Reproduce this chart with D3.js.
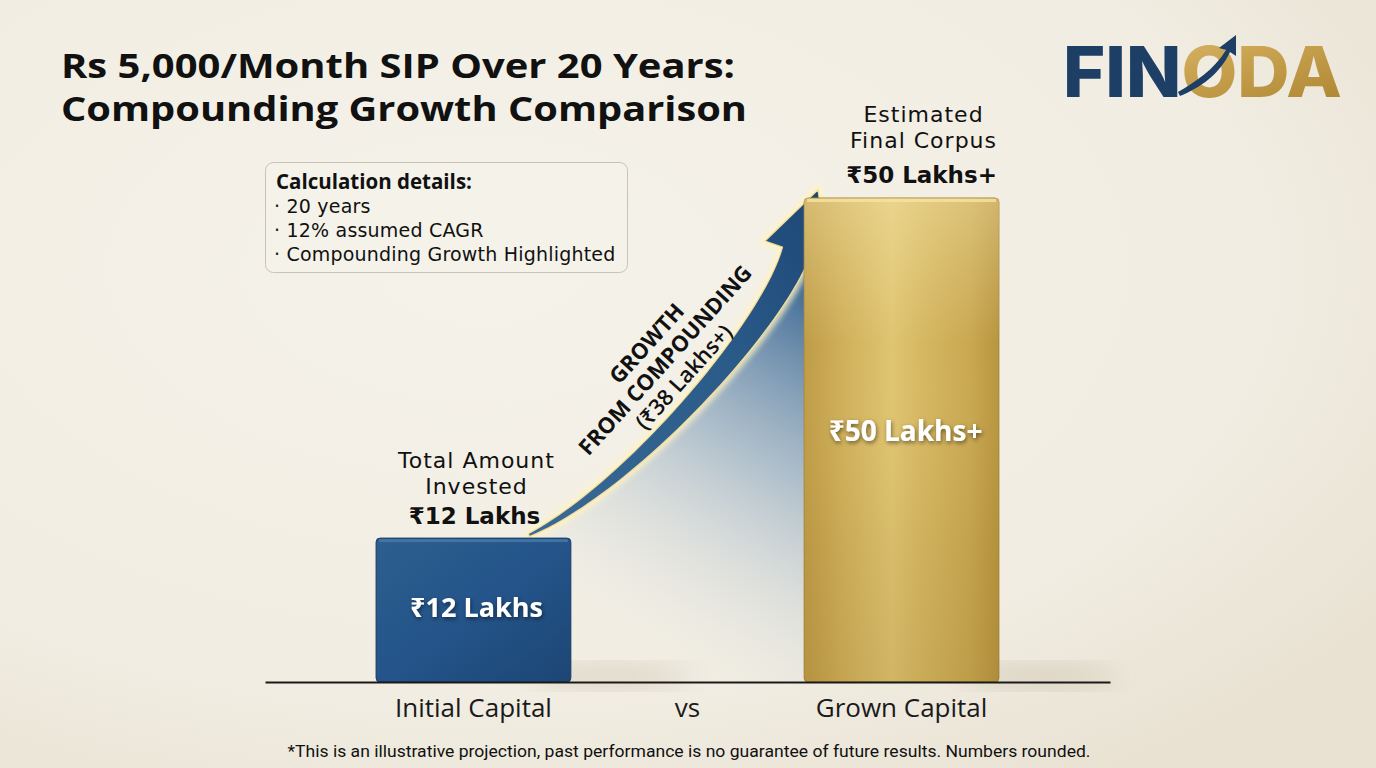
<!DOCTYPE html>
<html>
<head>
<meta charset="utf-8">
<script src="https://cdn.jsdelivr.net/npm/d3@7"></script>
<style>
  html, body { margin: 0; padding: 0; background: #f2eee4; }
  svg { display: block; font-family: "Open Sans", "Noto Sans", "DejaVu Sans", sans-serif; }
</style>
</head>
<body>
<div id="chart"></div>
<script>
// ---- data ----
const categories = ["Initial Capital", "vs", "Grown Capital"];
const barNames = ["Initial Capital", "Grown Capital"];
const barValues = [12, 50];                 // in lakhs
const barInnerLabels = ["₹12 Lakhs", "₹50 Lakhs+"];
const barTopLabels = [["Total Amount", "Invested"], ["Estimated", "Final Corpus"]];
const barTopValues = ["₹12 Lakhs", "₹50 Lakhs+"];
const growthLines = ["GROWTH", "FROM COMPOUNDING", "(₹38 Lakhs+)"];
const detailTitle = "Calculation details:";
const detailLines = ["20 years", "12% assumed CAGR", "Compounding Growth Highlighted"];
const titleLines = ["Rs 5,000/Month SIP Over 20 Years:", "Compounding Growth Comparison"];
const footnote = "*This is an illustrative projection, past performance is no guarantee of future results. Numbers rounded.";

const W = 1376, H = 768;
const svg = d3.select("#chart").append("svg").attr("width", W).attr("height", H);
const defs = svg.append("defs");

// background
const bg = defs.append("radialGradient").attr("id", "bg").attr("cx", "35%").attr("cy", "35%").attr("r", "80%");
bg.append("stop").attr("offset", "0%").attr("stop-color", "#f5f2ea");
bg.append("stop").attr("offset", "70%").attr("stop-color", "#f1ede2");
bg.append("stop").attr("offset", "100%").attr("stop-color", "#e9e2d3");
svg.append("rect").attr("width", W).attr("height", H).attr("fill", "url(#bg)");

// gradients
const blueG = defs.append("linearGradient").attr("id", "blueBar").attr("x1", 0).attr("y1", 0).attr("x2", 1).attr("y2", 1);
blueG.append("stop").attr("offset", "0%").attr("stop-color", "#2c5f8e");
blueG.append("stop").attr("offset", "50%").attr("stop-color", "#24548a");
blueG.append("stop").attr("offset", "100%").attr("stop-color", "#1c4674");

const goldG = defs.append("linearGradient").attr("id", "goldBar").attr("x1", 0).attr("y1", 0).attr("x2", 1).attr("y2", 0);
[["0%", "#bf9c47"], ["20%", "#d0b05a"], ["45%", "#dfc471"], ["60%", "#d6b862"], ["85%", "#c9a851"], ["100%", "#b8953f"]]
  .forEach(s => goldG.append("stop").attr("offset", s[0]).attr("stop-color", s[1]));
const goldV = defs.append("linearGradient").attr("id", "goldShade").attr("x1", 0).attr("y1", 0).attr("x2", 0).attr("y2", 1);
goldV.append("stop").attr("offset", "0%").attr("stop-color", "#fff2c0").attr("stop-opacity", 0.35);
goldV.append("stop").attr("offset", "30%").attr("stop-color", "#fff2c0").attr("stop-opacity", 0);
goldV.append("stop").attr("offset", "70%").attr("stop-color", "#6b4d10").attr("stop-opacity", 0.06);
goldV.append("stop").attr("offset", "100%").attr("stop-color", "#6b4d10").attr("stop-opacity", 0.12);

const areaG = defs.append("linearGradient").attr("id", "areaFade").attr("gradientUnits", "userSpaceOnUse")
  .attr("x1", 805).attr("y1", 270).attr("x2", 590).attr("y2", 640);
areaG.append("stop").attr("offset", "0%").attr("stop-color", "#2a5b8c").attr("stop-opacity", 0.95);
areaG.append("stop").attr("offset", "45%").attr("stop-color", "#7d9cb8").attr("stop-opacity", 0.55);
areaG.append("stop").attr("offset", "100%").attr("stop-color", "#f2eee4").attr("stop-opacity", 0);

const arrowG = defs.append("linearGradient").attr("id", "arrowFill").attr("x1", 0).attr("y1", 1).attr("x2", 1).attr("y2", 0);
arrowG.append("stop").attr("offset", "0%").attr("stop-color", "#3a6a98");
arrowG.append("stop").attr("offset", "60%").attr("stop-color", "#2a5a88");
arrowG.append("stop").attr("offset", "100%").attr("stop-color", "#1c4675");

const logoGold = defs.append("linearGradient").attr("id", "logoGold").attr("x1", 0).attr("y1", 0).attr("x2", 1).attr("y2", 1);
logoGold.append("stop").attr("offset", "0%").attr("stop-color", "#e2c77e");
logoGold.append("stop").attr("offset", "50%").attr("stop-color", "#c9a24f");
logoGold.append("stop").attr("offset", "100%").attr("stop-color", "#a9822f");

const blur = defs.append("filter").attr("id", "glow").attr("x", "-20%").attr("y", "-20%").attr("width", "140%").attr("height", "140%");
blur.append("feGaussianBlur").attr("stdDeviation", 3);
const soft = defs.append("filter").attr("id", "soft").attr("x", "-50%").attr("y", "-50%").attr("width", "200%").attr("height", "200%");
soft.append("feGaussianBlur").attr("stdDeviation", 14);
const txtShadow = defs.append("filter").attr("id", "txtShadow").attr("x", "-10%").attr("y", "-30%").attr("width", "120%").attr("height", "160%");
txtShadow.append("feDropShadow").attr("dx", 1).attr("dy", 2).attr("stdDeviation", 2).attr("flood-color", "#000").attr("flood-opacity", 0.5);

// ---- scales ----
const x = d3.scaleBand().domain(categories).range([265, 1110]).paddingInner(0).paddingOuter(0.474);
// picture is not to linear scale; a soft power scale matches the drawn heights
const y = d3.scalePow().exponent(0.85).domain([0, 50]).range([682, 198]);
const barW = x.bandwidth() * 0.91;
const bx = name => x(name) + (x.bandwidth() - barW) / 2;

// ---- title ----
svg.append("text").attr("class", "title")
  .attr("font-size", 34).attr("font-weight", 700).attr("fill", "#111")
  .selectAll("tspan").data(titleLines).join("tspan")
  .attr("x", 61).attr("y", (d, i) => 78 + i * 43)
  .attr("textLength", (d, i) => i === 0 ? 674 : 686).attr("lengthAdjust", "spacingAndGlyphs")
  .text(d => d);

// ---- logo ----
const logo = svg.append("g").attr("class", "logo");
logo.append("text").attr("x", 1063).attr("y", 97).attr("font-size", 70).attr("font-weight", 800)
  .attr("font-family", "Inter, 'Open Sans', sans-serif")
  .attr("textLength", 279).attr("lengthAdjust", "spacingAndGlyphs")
  .call(t => {
    t.append("tspan").attr("fill", "#1d3f66").text("FIN");
    t.append("tspan").attr("fill", "url(#logoGold)").text("ODA");
  });
logo.append("path")
  .attr("d", "M1178,92 C1195,82 1214,70 1226,50 L1219,48 L1236,35 L1236,56 L1230,52 C1220,74 1200,88 1180,96 Z")
  .attr("fill", "#1d3f66");

// ---- calculation box ----
const box = svg.append("g").attr("class", "details");
box.append("rect").attr("x", 265.5).attr("y", 162.5).attr("width", 362).attr("height", 110).attr("rx", 8)
  .attr("fill", "#f5f2ea").attr("stroke", "#c9c3b6").attr("stroke-width", 1);
const boxText = box.append("text").attr("fill", "#111");
boxText.append("tspan").attr("x", 276).attr("y", 189).attr("font-size", 20.5).attr("font-weight", 700).text(detailTitle);
boxText.selectAll(".dl").data(detailLines).join("tspan").attr("class", "dl")
  .attr("x", 274).attr("y", (d, i) => 213 + i * 24)
  .attr("font-family", "'DejaVu Sans', 'Open Sans', sans-serif")
  .attr("font-size", 19).attr("letter-spacing", 0.2)
  .text(d => "· " + d);

// ---- shaded area + growth arrow (anchored on bar tops) ----
const blueRight = bx("Initial Capital") + barW;
const goldLeft = bx("Grown Capital");
const p0 = [blueRight - 42, y(barValues[0]) - 3];
const p3 = [goldLeft - 8, y(barValues[1]) + 54];
const p1 = [p0[0] + 100, p0[1] - 47];
const p2 = [p3[0] - 25, p3[1] + 76];
const bez = t => {
  const u = 1 - t;
  return [
    u*u*u*p0[0] + 3*u*u*t*p1[0] + 3*u*t*t*p2[0] + t*t*t*p3[0],
    u*u*u*p0[1] + 3*u*u*t*p1[1] + 3*u*t*t*p2[1] + t*t*t*p3[1]
  ];
};
const ts = d3.range(0, 1.0001, 0.02);
const centre = ts.map(bez);

// area under the curve
const areaPts = centre.concat([[goldLeft, p3[1] - 30], [goldLeft, 682], [p0[0] + 40, 682]]);
svg.append("path").attr("d", d3.line()(areaPts) + "Z").attr("fill", "url(#areaFade)");

// shaft as a tapering ribbon
const left = [], right = [];
centre.forEach((p, i) => {
  const a = centre[Math.max(0, i - 1)], b = centre[Math.min(centre.length - 1, i + 1)];
  const dx = b[0] - a[0], dy = b[1] - a[1], len = Math.hypot(dx, dy);
  const nx = -dy / len, ny = dx / len;
  const w = 1.5 + 13 * Math.pow(ts[i], 0.9);
  left.push([p[0] + nx * w, p[1] + ny * w]);
  right.push([p[0] - nx * w, p[1] - ny * w]);
});
const endDir = (() => {
  const a = centre[centre.length - 2], b = centre[centre.length - 1];
  const l = Math.hypot(b[0] - a[0], b[1] - a[1]);
  return [(b[0] - a[0]) / l, (b[1] - a[1]) / l];
})();
const nrm = [-endDir[1], endDir[0]];
const tip = [p3[0] + endDir[0] * 66, p3[1] + endDir[1] * 66];
const barbL = [p3[0] + nrm[0] * 33, p3[1] + nrm[1] * 33];
const barbR = [p3[0] - nrm[0] * 33, p3[1] - nrm[1] * 33];
const arrowPts = left.concat([barbL, tip, barbR]).concat(right.slice().reverse());
const arrowD = d3.line()(arrowPts) + "Z";
svg.append("path").attr("d", arrowD).attr("fill", "none").attr("stroke", "#fff3c4")
  .attr("stroke-width", 7).attr("filter", "url(#glow)");
svg.append("path").attr("d", arrowD).attr("fill", "url(#arrowFill)")
  .attr("stroke", "#f3dc98").attr("stroke-width", 1.2);

// arrow label
svg.append("text").attr("transform", "translate(665,360) rotate(-48)")
  .attr("text-anchor", "middle").attr("font-size", 22).attr("fill", "#111")
  .selectAll("tspan").data(growthLines).join("tspan")
  .attr("x", 0).attr("y", (d, i) => (i - 1) * 25 + 8)
  .attr("font-weight", (d, i) => i < 2 ? 700 : 600)
  .text(d => d);

// ---- bars ----
const bars = barNames.map((n, i) => ({ name: n, value: barValues[i], inner: barInnerLabels[i], top: barTopLabels[i], topVal: barTopValues[i] }));

// floor shadows
svg.selectAll(".shadow").data(bars).join("ellipse").attr("class", "shadow")
  .attr("cx", d => bx(d.name) + barW + 40).attr("cy", 676)
  .attr("rx", 80).attr("ry", 8).attr("fill", "#8a7a5a").attr("opacity", 0.3).attr("filter", "url(#soft)");

svg.selectAll(".bar").data(bars).join("rect").attr("class", "bar")
  .attr("x", d => bx(d.name)).attr("y", d => y(d.value))
  .attr("width", barW).attr("height", d => y(0) - y(d.value))
  .attr("rx", 4)
  .attr("fill", (d, i) => i === 0 ? "url(#blueBar)" : "url(#goldBar)")
  .attr("stroke", (d, i) => i === 0 ? "#173c62" : "#a88536").attr("stroke-width", 1);
svg.append("rect").attr("x", bx("Grown Capital")).attr("y", y(50))
  .attr("width", barW).attr("height", y(0) - y(50)).attr("rx", 4).attr("fill", "url(#goldShade)");
// top edge highlight
svg.selectAll(".edge").data(bars).join("rect").attr("class", "edge")
  .attr("x", d => bx(d.name) + 3).attr("y", d => y(d.value) + 1)
  .attr("width", barW - 6).attr("height", 3)
  .attr("fill", (d, i) => i === 0 ? "#4a7aa8" : "#f6e3a2").attr("opacity", 0.8);

// inner labels
svg.selectAll(".inner").data(bars).join("text").attr("class", "inner")
  .attr("x", (d, i) => bx(d.name) + barW / 2 + (i === 0 ? 3 : 4))
  .attr("y", (d, i) => i === 0 ? 617 : 441)
  .attr("text-anchor", "middle").attr("font-size", (d, i) => i === 0 ? 27 : 28).attr("font-weight", 700)
  .attr("fill", "#fff").attr("filter", "url(#txtShadow)")
  .text(d => d.inner);

// labels above bars (DejaVu: compact line box so the tight lines don't collide)
const topOff = [[-70, -44, -14], [-76, -50, -15]];
const tops = svg.selectAll(".toplab").data(bars).join("text").attr("class", "toplab")
  .attr("transform", (d, i) => `translate(${bx(d.name) + barW / 2 + (i === 0 ? 3 : 22)},${y(d.value)})`)
  .attr("text-anchor", "middle").attr("fill", "#111")
  .attr("font-family", "'DejaVu Sans', 'Open Sans', sans-serif");
tops.selectAll("tspan").data((d, j) => d.top.map((t, k) => ({ t, y: topOff[j][k], big: false }))
    .concat([{ t: d.topVal, y: topOff[j][2], big: true }]))
  .join("tspan")
  .attr("x", d => d.big ? -2 : 0).attr("y", d => d.y)
  .attr("font-size", d => d.big ? 23 : 22).attr("font-weight", d => d.big ? 700 : 400)
  .attr("letter-spacing", d => d.big ? 0 : 1)
  .text(d => d.t);

// ---- axis ----
const axis = svg.append("g").attr("transform", "translate(0,682)")
  .call(d3.axisBottom(x).tickSize(0).tickSizeOuter(0).tickPadding(17));
axis.select(".domain").attr("stroke", "#1a1a1a").attr("stroke-width", 2);
axis.selectAll(".tick text").attr("font-size", 26).attr("fill", "#1a1a1a")
  .attr("font-family", "'Open Sans', 'Noto Sans', sans-serif");

// ---- footnote ----
svg.append("text").attr("x", 689).attr("y", 757).attr("text-anchor", "middle")
  .attr("font-size", 17).attr("fill", "#111")
  .attr("font-family", "'Liberation Sans Narrow', 'Roboto', sans-serif")
  .attr("textLength", 803).attr("lengthAdjust", "spacingAndGlyphs")
  .text(footnote);
</script>
</body>
</html>
